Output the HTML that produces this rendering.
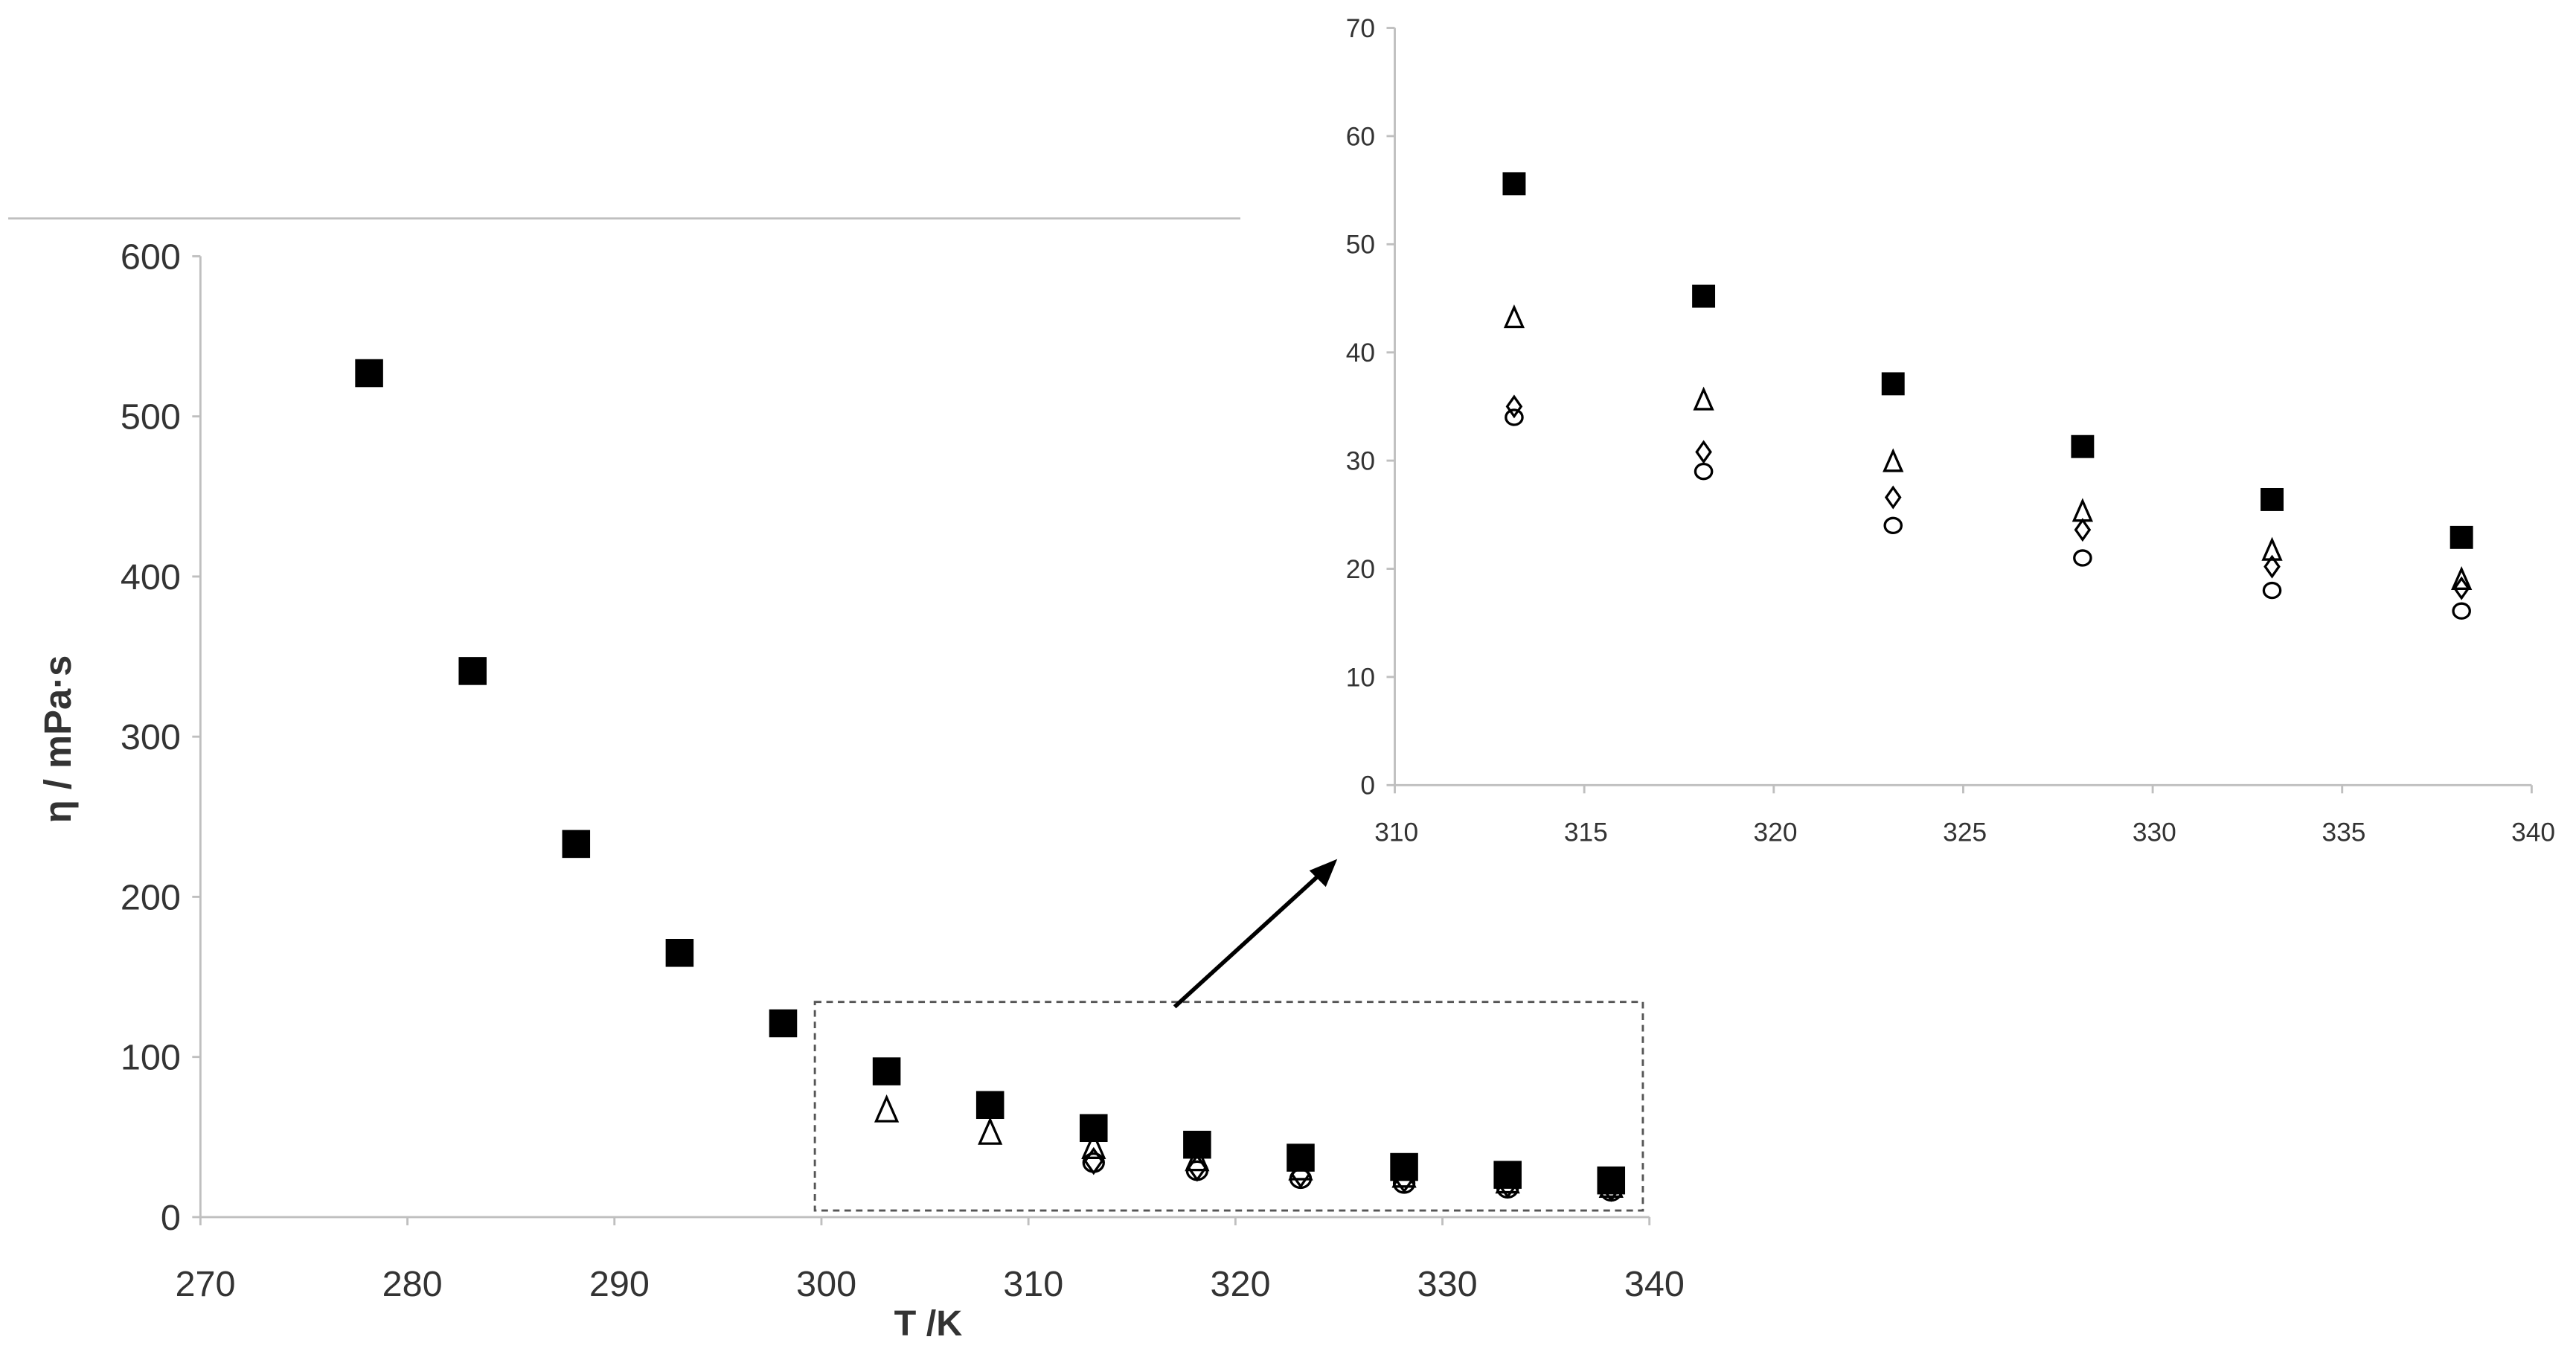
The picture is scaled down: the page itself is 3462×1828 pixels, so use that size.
<!DOCTYPE html>
<html><head><meta charset="utf-8"><style>
html,body{margin:0;padding:0;background:#fff;}
svg{display:block;}
text{font-family:"Liberation Sans",sans-serif;fill:#333;}
</style></head><body>
<svg id="chart" width="3462" height="1828" viewBox="0 0 1568 828" preserveAspectRatio="none" xmlns="http://www.w3.org/2000/svg">
<line x1="5" y1="133" x2="755" y2="133" stroke="#bfbfbf" stroke-width="1.2"/>
<g id="main"></g>
<g id="inset"></g>
<rect x="496" y="610" width="504" height="127" fill="none" stroke="#555" stroke-width="1.3" stroke-dasharray="4,3"/>
<line x1="715" y1="613" x2="806" y2="530" stroke="#000" stroke-width="2.5"/>
<polygon points="814,523 797,530 807,540" fill="#000"/>
<text x="565" y="813" font-size="22" font-weight="bold" text-anchor="middle">T /K</text>
<text transform="translate(43,450) rotate(-90)" font-size="23" font-weight="bold" text-anchor="middle">η / mPa·s</text>
</svg>
<script>
// main chart data
const mainT = [278.15,283.15,288.15,293.15,298.15,303.15,308.15,313.15,318.15,323.15,328.15,333.15,338.15];
const mainSquare = [527,341,233,165,121,91,70,55.6,45.2,37.1,31.3,26.4,22.9];
const mainTriT = [303.15,308.15,313.15,318.15,323.15,328.15,333.15,338.15];
const mainTri = [66,52,43.1,35.5,29.8,25.2,21.6,18.9];
// inset data
const insetT = [313.15,318.15,323.15,328.15,333.15,338.15];
const insetSquare = [55.6,45.2,37.1,31.3,26.4,22.9];
const insetTri = [43.1,35.5,29.8,25.2,21.6,18.9];
const insetDiamond = [35,30.8,26.6,23.6,20.2,18.2];
const insetCircle = [34,29,24,21,18,16.1];
const mainXTicks = [270,280,290,300,310,320,330,340];
const mainYTicks = [0,100,200,300,400,500,600];
const insetXTicks = [310,315,320,325,330,335,340];
const insetYTicks = [0,10,20,30,40,50,60,70];

const NS='http://www.w3.org/2000/svg';
function mk(parent,tag,attrs){const e=document.createElementNS(NS,tag);for(const k in attrs)e.setAttribute(k,attrs[k]);parent.appendChild(e);return e;}

function drawChart(g,cfg){
  const sx=v=>cfg.x0+(v-cfg.xmin)/(cfg.xmax-cfg.xmin)*(cfg.x1-cfg.x0);
  const sy=v=>cfg.y0-(v-cfg.ymin)/(cfg.ymax-cfg.ymin)*(cfg.y0-cfg.y1);
  let a=mk(g,'line',{x1:cfg.x0,y1:cfg.y0,x2:cfg.x0,y2:cfg.y1,stroke:'#bfbfbf','stroke-width':1.3});
  
  
  a=mk(g,'line',{x1:cfg.x0,y1:cfg.y0,x2:cfg.x1,y2:cfg.y0,stroke:'#bfbfbf','stroke-width':1.3});
  
  
  cfg.yt.forEach(v=>{
    const y=sy(v);
    const t=mk(g,'line',{x1:cfg.x0-5,y1:y,x2:cfg.x0,y2:y,stroke:'#bfbfbf','stroke-width':1.3});
    
    
    const l=mk(g,'text',{x:cfg.x0-cfg.ylabOff,y:y+cfg.fs*0.35,'font-size':cfg.fs,'text-anchor':'end'});
    l.textContent=v;
    
    
  });
  cfg.xt.forEach(v=>{
    const x=sx(v);
    const t=mk(g,'line',{x1:x,y1:cfg.y0,x2:x,y2:cfg.y0+5,stroke:'#bfbfbf','stroke-width':1.3});
    
    
    const l=mk(g,'text',{x:x+cfg.xlabDx,y:cfg.y0+cfg.xlabOff,'font-size':cfg.fs,'text-anchor':'middle'});
    l.textContent=v;
    
    
  });
  cfg.series.forEach(s=>{
    s.xs.forEach((xv,i)=>{
      const x=sx(xv),y=sy(s.ys[i]),r=cfg.ms;let e;
      if(s.shape==='square'){e=mk(g,'rect',{x:x-r,y:y-r,width:2*r,height:2*r,fill:'#000'});}
      else if(s.shape==='triangle'){e=mk(g,'polygon',{points:`${x},${y-r} ${x-r*0.75},${y+r*0.7} ${x+r*0.75},${y+r*0.7}`,fill:'none',stroke:'#000','stroke-width':1.5});}
      else if(s.shape==='diamond'){e=mk(g,'polygon',{points:`${x},${y-r*0.85} ${x+r*0.6},${y} ${x},${y+r*0.85} ${x-r*0.6},${y}`,fill:'none',stroke:'#000','stroke-width':1.5});}
      else {e=mk(g,'ellipse',{cx:x,cy:y,rx:r*0.72,ry:r*0.65,fill:'none',stroke:'#000','stroke-width':1.5});}
      
      
    });
  });
}
drawChart(document.getElementById('main'),{x0:122,x1:1004,y0:741,y1:156,xmin:270,xmax:340,ymin:0,ymax:600,
  xt:mainXTicks,yt:mainYTicks,fs:22,ylabOff:12,xlabOff:48,xlabDx:3,ms:8.5,
  series:[
   {name:'point-square',shape:'square',xs:mainT,ys:mainSquare},
   {name:'point-triangle',shape:'triangle',xs:mainTriT,ys:mainTri},
   {name:'point-diamond',shape:'diamond',xs:insetT,ys:insetDiamond},
   {name:'point-circle',shape:'circle',xs:insetT,ys:insetCircle}]});
drawChart(document.getElementById('inset'),{x0:849,x1:1541,y0:478,y1:17,xmin:310,xmax:340,ymin:0,ymax:70,
  xt:insetXTicks,yt:insetYTicks,fs:16,ylabOff:12,xlabOff:34,xlabDx:1,ms:7,
  series:[
   {name:'inset-square',shape:'square',xs:insetT,ys:insetSquare},
   {name:'inset-triangle',shape:'triangle',xs:insetT,ys:insetTri},
   {name:'inset-diamond',shape:'diamond',xs:insetT,ys:insetDiamond},
   {name:'inset-circle',shape:'circle',xs:insetT,ys:insetCircle}]});
</script>
</body></html>
